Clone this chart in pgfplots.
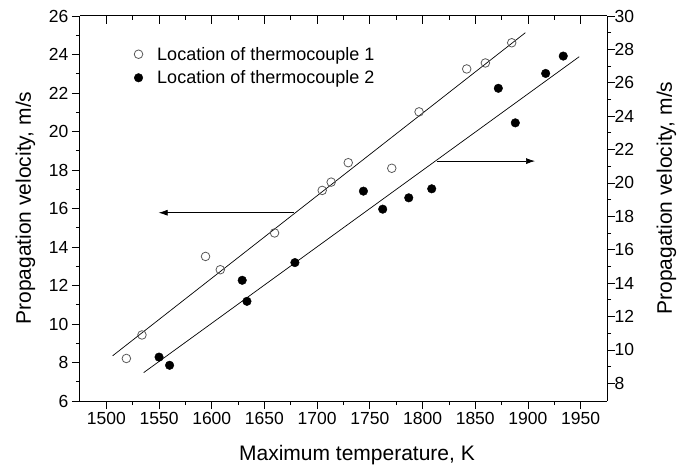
\documentclass[border=0pt]{standalone}
\usepackage{fontspec}
\setmainfont{Liberation Sans}
\usepackage{pgfplots}
\pgfplotsset{compat=1.18}
\usetikzlibrary{arrows.meta}
\begin{document}
\begin{tikzpicture}
\pgfplotsset{
  common/.style={scale only axis, width=527pt, height=385pt,
    at={(0pt,0pt)}, anchor=south west,
    xmin=1475, xmax=1975,
    xtick={1500,1550,...,1950}, minor x tick num=1,
    /pgf/number format/assume math mode=true,
    /pgf/number format/1000 sep={},
    tick label style={font=\fontsize{17.5}{20}\selectfont},
    label style={font=\fontsize{21}{25}\selectfont},
    major tick length=8pt, minor tick length=4pt,
    tick style={black, line width=0.8pt},
    axis line style={line width=1pt},
    clip=false,
  }
}
\begin{axis}[common,
  ymin=6, ymax=26, ytick={6,8,...,26}, minor y tick num=1,
  axis x line*=bottom, axis y line*=left, tick align=outside,
  xlabel={Maximum temperature, K},
  ylabel={Propagation velocity, m/s},
  xlabel style={at={(axis description cs:0.5256,0)}, anchor=base, yshift=-59pt},
  ylabel style={at={(axis description cs:-0.093,0.501)}, anchor=base, rotate=0},
  legend style={draw=none, fill=none, at={(axis description cs:0.0885,0.9305)}, anchor=north west,
    font=\fontsize{18}{21}\selectfont, row sep=5pt},
  legend cell align=left,
  legend image code/.code={\draw[#1] plot coordinates {(8.5pt,0pt)}; \path (0pt,0pt) (25pt,0pt);},
]
\addplot[only marks, mark=o, mark size=4.3pt, mark options={draw=black!65, line width=0.8pt}] table {
x y
1519.0 8.21
1533.8 9.43
1594.1 13.51
1608.1 12.82
1659.6 14.73
1704.8 16.94
1713.3 17.37
1729.5 18.38
1770.8 18.09
1796.7 21.02
1841.9 23.25
1859.6 23.56
1884.6 24.61
};
\addlegendentry{Location of thermocouple 1}
\addlegendimage{only marks, mark=*, mark size=4.3pt, black}
\addlegendentry{Location of thermocouple 2}
\addplot[black, line width=0.7pt, forget plot] coordinates {(1506,8.35) (1897.5,25.13)};
\draw[-{Latex[length=9pt,width=6pt]}, line width=0.7pt] (axis cs:1677.6,15.78) -- (axis cs:1549.6,15.78);
\end{axis}
\begin{axis}[common,
  ymin=6.94, ymax=30, ytick={8,10,...,30}, minor y tick num=1,
  axis x line=none, axis y line*=right, tick align=outside,
  yticklabel style={xshift=-4pt},
  ylabel={Propagation velocity, m/s},
  ylabel style={at={(axis description cs:1.1233,0.527)}, anchor=base, rotate=0},
]
\addplot[only marks, mark=*, mark size=4.3pt, black] table {
x y
1550.0 9.57
1560.0 9.08
1628.9 14.17
1633.4 12.91
1678.9 15.23
1743.9 19.51
1762.2 18.43
1786.9 19.11
1808.7 19.65
1871.9 25.67
1888.0 23.60
1916.8 26.56
1933.5 27.60
};
\addplot[black, line width=0.7pt] coordinates {(1535.4,8.64) (1948.6,27.56)};
\draw[-{Latex[length=9pt,width=6pt]}, line width=0.7pt] (axis cs:1813.4,21.31) -- (axis cs:1906.7,21.31);
\end{axis}
\begin{axis}[common,
  ymin=0, ymax=1,
  axis x line*=top, axis y line=none, tick align=inside,
  xticklabels={},
]
\end{axis}
\pgfresetboundingbox
\path (-80pt,-65pt) rectangle (607pt,401pt);
\end{tikzpicture}
\end{document}
